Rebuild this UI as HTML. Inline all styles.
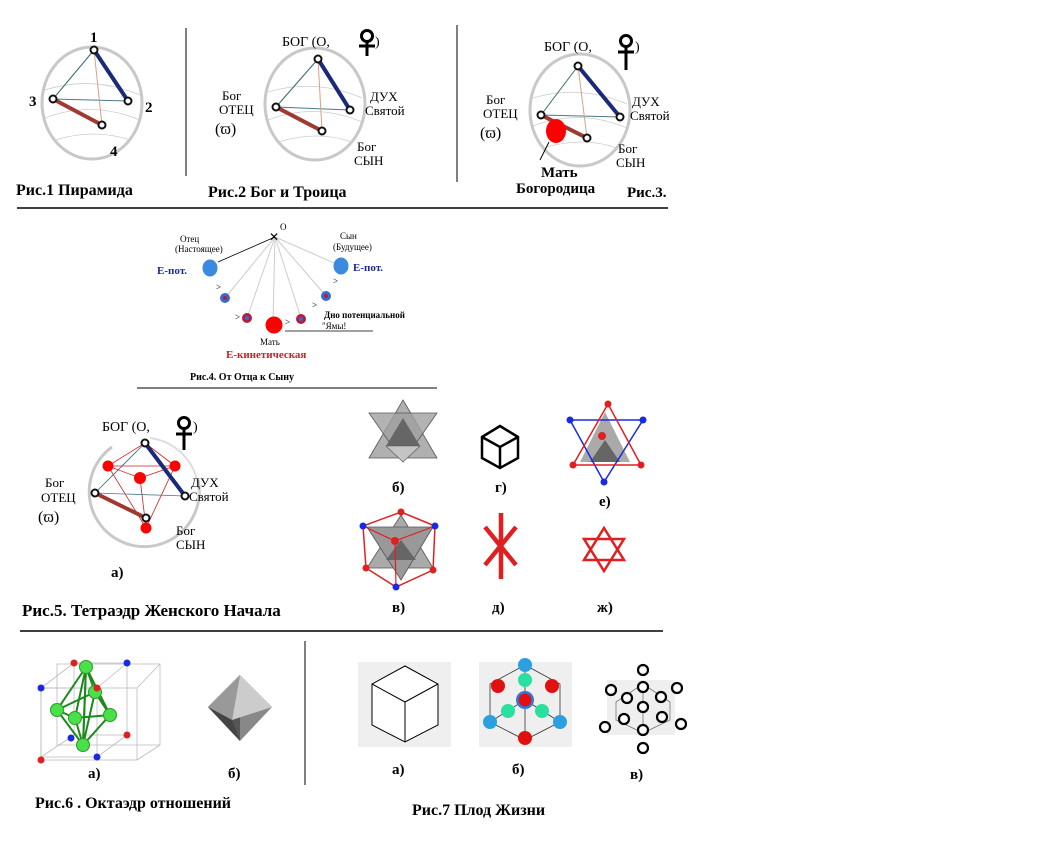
<!DOCTYPE html>
<html><head><meta charset="utf-8"><style>
body{margin:0;background:#fff;}
svg{display:block;font-family:"Liberation Serif","DejaVu Serif",serif;}
.b{font-weight:bold;}
</style></head><body>
<svg width="1053" height="850" viewBox="0 0 1053 850" xmlns="http://www.w3.org/2000/svg">
<!-- Fig1 -->
<g>
<ellipse cx="92" cy="103" rx="50" ry="56" fill="none" stroke="#c8c8c8" stroke-width="3"/>
<path d="M45 90 Q92 75 140 95 M45 118 Q92 100 140 120 M55 140 Q95 128 130 140" fill="none" stroke="#ccc" stroke-width="0.8"/>
<line x1="94" y1="50" x2="53" y2="99" stroke="#3a6a6a"/>
<line x1="53" y1="99" x2="128" y2="101" stroke="#4a7a8a"/>
<line x1="94" y1="50" x2="102" y2="125" stroke="#d9a080"/>
<line x1="94" y1="50" x2="128" y2="101" stroke="#1a2a7a" stroke-width="4"/>
<line x1="53" y1="99" x2="102" y2="125" stroke="#a03a30" stroke-width="4"/>
<g fill="#fff" stroke="#111" stroke-width="2"><circle cx="94" cy="50" r="3.5"/><circle cx="128" cy="101" r="3.5"/><circle cx="53" cy="99" r="3.5"/><circle cx="102" cy="125" r="3.5"/></g>
<text x="90" y="42" class="b" font-size="15">1</text><text x="145" y="112" class="b" font-size="15">2</text>
<text x="29" y="106" class="b" font-size="15">3</text><text x="110" y="156" class="b" font-size="15">4</text>
<text x="16" y="195" class="b" font-size="16">Рис.1 Пирамида</text>
</g>
<line x1="186" y1="28" x2="186" y2="176" stroke="#000"/>
<!-- Fig2 -->
<g>
<ellipse cx="315" cy="104" rx="50" ry="56" fill="none" stroke="#c8c8c8" stroke-width="3"/>
<path d="M268 92 Q315 78 362 98 M268 120 Q315 102 362 122 M278 142 Q318 130 352 142" fill="none" stroke="#ccc" stroke-width="0.8"/>
<line x1="318" y1="59" x2="276" y2="107" stroke="#3a6a6a"/>
<line x1="276" y1="107" x2="350" y2="110" stroke="#4a7a8a"/>
<line x1="318" y1="59" x2="322" y2="131" stroke="#d9a080"/>
<line x1="318" y1="59" x2="350" y2="110" stroke="#1a2a7a" stroke-width="4"/>
<line x1="276" y1="107" x2="322" y2="131" stroke="#a03a30" stroke-width="4"/>
<g fill="#fff" stroke="#111" stroke-width="2"><circle cx="318" cy="59" r="3.5"/><circle cx="350" cy="110" r="3.5"/><circle cx="276" cy="107" r="3.5"/><circle cx="322" cy="131" r="3.5"/></g>
<text x="282" y="46" font-size="14">БОГ (О,</text>
<circle cx="367" cy="36" r="5.5" fill="none" stroke="#000" stroke-width="3"/><line x1="367" y1="42" x2="367" y2="56" stroke="#000" stroke-width="3"/><line x1="359" y1="46" x2="375" y2="46" stroke="#000" stroke-width="3"/>
<text x="375" y="46" font-size="14">)</text>
<text x="222" y="100" font-size="13">Бог</text><text x="219" y="114" font-size="13">ОТЕЦ</text><text x="215" y="134" font-size="16">(ϖ)</text>
<text x="370" y="101" font-size="13">ДУХ</text><text x="365" y="115" font-size="13">Святой</text>
<text x="357" y="151" font-size="13">Бог</text><text x="354" y="165" font-size="13">СЫН</text>
<text x="208" y="197" class="b" font-size="16">Рис.2 Бог и Троица</text>
</g>
<line x1="457" y1="25" x2="457" y2="182" stroke="#000"/>
<!-- Fig3 -->
<g>
<ellipse cx="580" cy="110" rx="50" ry="56" fill="none" stroke="#c8c8c8" stroke-width="3"/>
<path d="M533 98 Q580 84 627 104 M533 126 Q580 108 627 128 M543 148 Q583 136 617 148" fill="none" stroke="#ccc" stroke-width="0.8"/>
<line x1="578" y1="66" x2="541" y2="115" stroke="#3a6a6a"/>
<line x1="541" y1="115" x2="620" y2="117" stroke="#4a7a8a"/>
<line x1="578" y1="66" x2="587" y2="138" stroke="#d9a080"/>
<line x1="578" y1="66" x2="620" y2="117" stroke="#1a2a7a" stroke-width="4"/>
<line x1="541" y1="115" x2="587" y2="138" stroke="#a03a30" stroke-width="4"/>
<g fill="#fff" stroke="#111" stroke-width="2"><circle cx="578" cy="66" r="3.5"/><circle cx="620" cy="117" r="3.5"/><circle cx="541" cy="115" r="3.5"/><circle cx="587" cy="138" r="3.5"/></g>
<ellipse cx="556" cy="131" rx="10" ry="12" fill="#f00"/>
<line x1="549" y1="142" x2="540" y2="160" stroke="#000"/>
<text x="544" y="51" font-size="14">БОГ (О,</text>
<circle cx="626" cy="41" r="5.5" fill="none" stroke="#000" stroke-width="3"/><line x1="626" y1="47" x2="626" y2="70" stroke="#000" stroke-width="3"/><line x1="618" y1="52" x2="634" y2="52" stroke="#000" stroke-width="3"/>
<text x="635" y="51" font-size="14">)</text>
<text x="486" y="104" font-size="13">Бог</text><text x="483" y="118" font-size="13">ОТЕЦ</text><text x="480" y="138" font-size="16">(ϖ)</text>
<text x="632" y="106" font-size="13">ДУХ</text><text x="630" y="120" font-size="13">Святой</text>
<text x="618" y="153" font-size="13">Бог</text><text x="616" y="167" font-size="13">СЫН</text>
<text x="541" y="177" class="b" font-size="15">Мать</text><text x="516" y="193" class="b" font-size="15">Богородица</text>
<text x="627" y="197" class="b" font-size="15">Рис.3.</text>
</g>
<line x1="17" y1="208" x2="668" y2="208" stroke="#000" stroke-width="1.5"/>
<!-- Fig4 -->
<g>
<g stroke="#ccc"><line x1="275" y1="237" x2="225" y2="298"/><line x1="275" y1="237" x2="247" y2="318"/><line x1="275" y1="237" x2="273" y2="322"/><line x1="275" y1="237" x2="301" y2="318"/><line x1="275" y1="237" x2="326" y2="296"/><line x1="275" y1="237" x2="341" y2="266"/></g>
<line x1="275" y1="237" x2="218" y2="262" stroke="#000" stroke-width="0.8"/>
<text x="269" y="241" font-size="12">✕</text><text x="280" y="230" font-size="9">O</text>
<text x="180" y="242" font-size="9">Отец</text><text x="175" y="252" font-size="9">(Настоящее)</text>
<text x="157" y="274" class="b" font-size="11" fill="#1a2a9a">Е-пот.</text>
<ellipse cx="210" cy="268" rx="7.5" ry="8.5" fill="#3a8ae0"/>
<circle cx="225" cy="298" r="5" fill="#3a6ad0"/><circle cx="225" cy="298" r="2" fill="#b02040"/>
<circle cx="247" cy="318" r="5" fill="#b02040"/><circle cx="247" cy="318" r="2" fill="#3a6ad0"/>
<circle cx="274" cy="325" r="8.5" fill="#f00"/>
<circle cx="301" cy="319" r="5" fill="#b02040"/><circle cx="301" cy="319" r="2" fill="#3a6ad0"/>
<circle cx="326" cy="296" r="5" fill="#3a6ad0"/><circle cx="326" cy="296" r="2" fill="#b02040"/>
<ellipse cx="341" cy="266" rx="7.5" ry="8.5" fill="#3a8ae0"/>
<g font-size="9"><text x="216" y="290">&gt;</text><text x="235" y="320">&gt;</text><text x="285" y="325">&gt;</text><text x="312" y="308">&gt;</text><text x="333" y="284">&gt;</text></g>
<text x="340" y="239" font-size="9">Сын</text><text x="333" y="250" font-size="9">(Будущее)</text>
<text x="353" y="271" class="b" font-size="11" fill="#1a2a9a">Е-пот.</text>
<text x="324" y="318" class="b" font-size="9">Дно потенциальной</text><text x="322" y="329" font-size="9">"Ямы!</text>
<line x1="285" y1="331" x2="373" y2="331" stroke="#000" stroke-width="0.8"/>
<text x="260" y="345" font-size="9">Мать</text>
<text x="226" y="358" class="b" font-size="11" fill="#d02020">Е-кинетическая</text>
<text x="190" y="380" class="b" font-size="10">Рис.4. От Отца к Сыну</text>
<line x1="137" y1="388" x2="437" y2="388" stroke="#000"/>
</g>
<!-- Fig5 a -->
<g>
<path d="M112 447 A55 55 0 1 0 198 480" fill="none" stroke="#c8c8c8" stroke-width="3"/>
<path d="M150 438 A55 55 0 0 1 198 500" fill="none" stroke="#ddd" stroke-width="2"/>
<g stroke="#d02020" stroke-width="0.8" fill="none"><polygon points="108,466 175,466 146,528"/><line x1="108" y1="466" x2="140" y2="478"/><line x1="175" y1="466" x2="140" y2="478"/><line x1="140" y1="478" x2="146" y2="528"/><line x1="145" y1="443" x2="108" y2="466"/><line x1="145" y1="443" x2="175" y2="466"/></g>
<line x1="145" y1="443" x2="95" y2="493" stroke="#3a6a6a" stroke-width="0.8"/>
<line x1="95" y1="493" x2="185" y2="496" stroke="#4a7a8a" stroke-width="0.8"/>
<line x1="145" y1="443" x2="185" y2="496" stroke="#1a2a7a" stroke-width="4"/>
<line x1="95" y1="493" x2="146" y2="518" stroke="#a03a30" stroke-width="4"/>
<g fill="#f00"><circle cx="108" cy="466" r="5.5"/><circle cx="175" cy="466" r="5.5"/><circle cx="140" cy="478" r="6"/><circle cx="146" cy="528" r="5.5"/></g>
<g fill="#fff" stroke="#111" stroke-width="2"><circle cx="145" cy="443" r="3.5"/><circle cx="185" cy="496" r="3.5"/><circle cx="95" cy="493" r="3.5"/><circle cx="146" cy="518" r="3.5"/></g>
<text x="102" y="431" font-size="14">БОГ (О,</text>
<circle cx="184" cy="423" r="5.5" fill="none" stroke="#000" stroke-width="3"/><line x1="184" y1="429" x2="184" y2="450" stroke="#000" stroke-width="3"/><line x1="176" y1="434" x2="192" y2="434" stroke="#000" stroke-width="3"/>
<text x="193" y="431" font-size="14">)</text>
<text x="45" y="487" font-size="13">Бог</text><text x="41" y="502" font-size="13">ОТЕЦ</text><text x="38" y="522" font-size="16">(ϖ)</text>
<text x="191" y="487" font-size="13">ДУХ</text><text x="189" y="501" font-size="13">Святой</text>
<text x="176" y="535" font-size="13">Бог</text><text x="176" y="549" font-size="13">СЫН</text>
<text x="111" y="577" class="b" font-size="15">а)</text>
<text x="22" y="616" class="b" font-size="17">Рис.5. Тетраэдр Женского Начала</text>
</g>
<!-- б star tetra -->
<g>
<polygon points="403,400 437,458 369,458" fill="#b0b0b0" stroke="#555" stroke-width="0.8"/>
<polygon points="403,462 437,413 369,413" fill="#a0a0a0" stroke="#555" stroke-width="0.8" fill-opacity="0.8"/>
<polygon points="403,418 420,446 386,446" fill="#666"/>
<polygon points="386,446 420,446 403,462" fill="#c4c4c4" stroke="#555" stroke-width="0.6"/>
</g>
<text x="392" y="492" class="b" font-size="15">б)</text>
<!-- г cube -->
<g fill="none" stroke="#000" stroke-width="2.5"><polygon points="500,426 518,437 518,458 500,468 482,458 482,437"/><polyline points="482,437 500,447 518,437"/><line x1="500" y1="447" x2="500" y2="468"/></g>
<text x="495" y="492" class="b" font-size="15">г)</text>
<!-- е -->
<g>
<polygon points="605,412 630,462 580,462" fill="#aaa"/>
<polygon points="605,440 620,462 590,462" fill="#666"/>
<polygon points="570,420 643,420 604,482" fill="none" stroke="#1a2ae0" stroke-width="1.5"/>
<polygon points="608,404 573,465 641,465" fill="none" stroke="#e02020" stroke-width="1.5"/>
<g fill="#1a2ae0"><circle cx="570" cy="420" r="3.5"/><circle cx="643" cy="420" r="3.5"/><circle cx="604" cy="482" r="3.5"/></g>
<g fill="#e02020"><circle cx="608" cy="404" r="3.5"/><circle cx="573" cy="465" r="3.5"/><circle cx="641" cy="465" r="3.5"/><circle cx="602" cy="436" r="4"/></g>
</g>
<text x="599" y="506" class="b" font-size="15">е)</text>
<!-- в -->
<g>
<polygon points="401,515 433,568 367,568" fill="#aaa" stroke="#555" stroke-width="0.8"/>
<polygon points="401,580 433,527 367,527" fill="#999" stroke="#555" stroke-width="0.8"/>
<polygon points="401,540 416,560 386,560" fill="#666"/>
<polygon points="401,512 435,526 433,570 396,587 366,568 363,526" fill="none" stroke="#e02020" stroke-width="1.5"/>
<polyline points="363,526 395,541 435,526" fill="none" stroke="#e02020" stroke-width="1.2"/>
<line x1="395" y1="541" x2="396" y2="587" stroke="#e02020" stroke-width="1.2"/>
<g fill="#e02020"><circle cx="401" cy="512" r="3.5"/><circle cx="433" cy="570" r="3.5"/><circle cx="366" cy="568" r="3.5"/><circle cx="395" cy="541" r="4"/></g>
<g fill="#1a2ae0"><circle cx="435" cy="526" r="3.5"/><circle cx="363" cy="526" r="3.5"/><circle cx="396" cy="587" r="3.5"/></g>
</g>
<text x="392" y="612" class="b" font-size="15">в)</text>
<!-- д -->
<g stroke="#e02020" stroke-width="4.5"><line x1="501" y1="513" x2="501" y2="579"/><line x1="485" y1="527" x2="516" y2="565"/><line x1="516" y1="527" x2="485" y2="565"/></g>
<text x="492" y="612" class="b" font-size="15">д)</text>
<!-- ж -->
<g fill="none" stroke="#e02020" stroke-width="2.5"><polygon points="604,528 624,560 584,560"/><polygon points="604,571 624,539 584,539"/></g>
<text x="597" y="612" class="b" font-size="15">ж)</text>
<line x1="20" y1="631" x2="663" y2="631" stroke="#000" stroke-width="1.5"/>
<!-- Fig6 a -->
<g>
<g fill="none" stroke="#bbb" stroke-width="0.8"><polygon points="41,688 97,688 97,757 41,757"/><polygon points="74,663 127,663 127,735 74,735"/><line x1="41" y1="688" x2="74" y2="663"/><line x1="97" y1="688" x2="127" y2="663"/><line x1="41" y1="757" x2="74" y2="735"/><line x1="97" y1="757" x2="127" y2="735"/></g>
<g fill="none" stroke="#bbb" stroke-width="0.8"><polygon points="57,664 160,664 160,745 57,745"/><polygon points="41,688 137,688 137,760 41,760"/><line x1="137" y1="688" x2="160" y2="664"/><line x1="137" y1="760" x2="160" y2="745"/></g>
<g stroke="#1a8a1a" stroke-width="2" fill="none"><polygon points="86,667 57,710 83,745"/><polygon points="86,667 95,692 110,715 83,745"/><polyline points="57,710 95,692 110,715 75,718 57,710"/><line x1="86" y1="667" x2="75" y2="718"/><line x1="75" y1="718" x2="83" y2="745"/><line x1="95" y1="692" x2="83" y2="745"/><line x1="86" y1="667" x2="110" y2="715"/></g>
<g fill="#4ae04a" stroke="#2a9a2a"><circle cx="86" cy="667" r="6.5"/><circle cx="57" cy="710" r="6.5"/><circle cx="95" cy="692" r="6.5"/><circle cx="110" cy="715" r="6.5"/><circle cx="75" cy="718" r="6.5"/><circle cx="83" cy="745" r="6.5"/></g>
<g fill="#e02020"><circle cx="74" cy="663" r="3.5"/><circle cx="97" cy="688" r="3.5"/><circle cx="127" cy="735" r="3.5"/><circle cx="41" cy="760" r="3.5"/></g>
<g fill="#1a2ae0"><circle cx="127" cy="663" r="3.5"/><circle cx="41" cy="688" r="3.5"/><circle cx="71" cy="738" r="3.5"/><circle cx="97" cy="757" r="3.5"/></g>
</g>
<text x="88" y="778" class="b" font-size="15">а)</text>
<g><polygon points="240,675 208,707 240,741" fill="#555"/><polygon points="240,675 272,707 240,741" fill="#888"/><polygon points="240,675 208,707 232,720" fill="#999"/><polygon points="240,675 232,720 272,707" fill="#ccc"/><polygon points="208,707 232,720 240,741" fill="#444"/></g>
<text x="228" y="778" class="b" font-size="15">б)</text>
<text x="35" y="808" class="b" font-size="16">Рис.6   . Октаэдр отношений</text>
<line x1="305" y1="641" x2="305" y2="785" stroke="#000"/>
<!-- Fig7 -->
<rect x="358" y="662" width="93" height="85" fill="#efefef"/>
<g fill="#fff" stroke="#000" stroke-width="1"><polygon points="405,666 438,684 438,725 405,742 372,725 372,684"/></g>
<g fill="none" stroke="#000"><polyline points="372,684 405,702 438,684"/><line x1="405" y1="702" x2="405" y2="742"/></g>
<text x="392" y="774" class="b" font-size="15">а)</text>
<rect x="479" y="662" width="93" height="85" fill="#efefef"/>
<g fill="none" stroke="#333" stroke-width="0.8"><polygon points="525,665 560,684 560,722 525,740 490,722 490,684"/><line x1="525" y1="665" x2="525" y2="740"/><line x1="490" y1="722" x2="525" y2="700"/><line x1="560" y1="722" x2="525" y2="700"/></g>
<g><circle cx="525" cy="665" r="7" fill="#2aa0e0"/><circle cx="525" cy="680" r="7" fill="#2ae0a0"/><circle cx="498" cy="686" r="7" fill="#e01010"/><circle cx="552" cy="686" r="7" fill="#e01010"/><circle cx="525" cy="700" r="9" fill="#2a7ae0"/><circle cx="525" cy="700" r="6.5" fill="#e01010"/><circle cx="508" cy="711" r="7" fill="#2ae0a0"/><circle cx="542" cy="711" r="7" fill="#2ae0a0"/><circle cx="490" cy="722" r="7" fill="#2aa0e0"/><circle cx="560" cy="722" r="7" fill="#2aa0e0"/><circle cx="525" cy="738" r="7" fill="#e01010"/></g>
<text x="512" y="774" class="b" font-size="15">б)</text>
<rect x="607" y="680" width="68" height="55" fill="#efefef"/>
<g fill="none" stroke="#777" stroke-width="0.8"><polygon points="643,684 670,702 670,720 643,733 616,720 616,702"/><line x1="643" y1="684" x2="643" y2="733"/></g>
<g fill="#fff" stroke="#000" stroke-width="2.2"><circle cx="643" cy="670" r="5"/><circle cx="643" cy="687" r="5"/><circle cx="611" cy="690" r="5"/><circle cx="677" cy="688" r="5"/><circle cx="627" cy="698" r="5"/><circle cx="661" cy="697" r="5"/><circle cx="643" cy="707" r="5"/><circle cx="624" cy="719" r="5"/><circle cx="662" cy="717" r="5"/><circle cx="605" cy="727" r="5"/><circle cx="681" cy="724" r="5"/><circle cx="643" cy="730" r="5"/><circle cx="643" cy="748" r="5"/></g>
<text x="630" y="779" class="b" font-size="15">в)</text>
<text x="412" y="815" class="b" font-size="16">Рис.7 Плод Жизни</text>
</svg>
</body></html>
